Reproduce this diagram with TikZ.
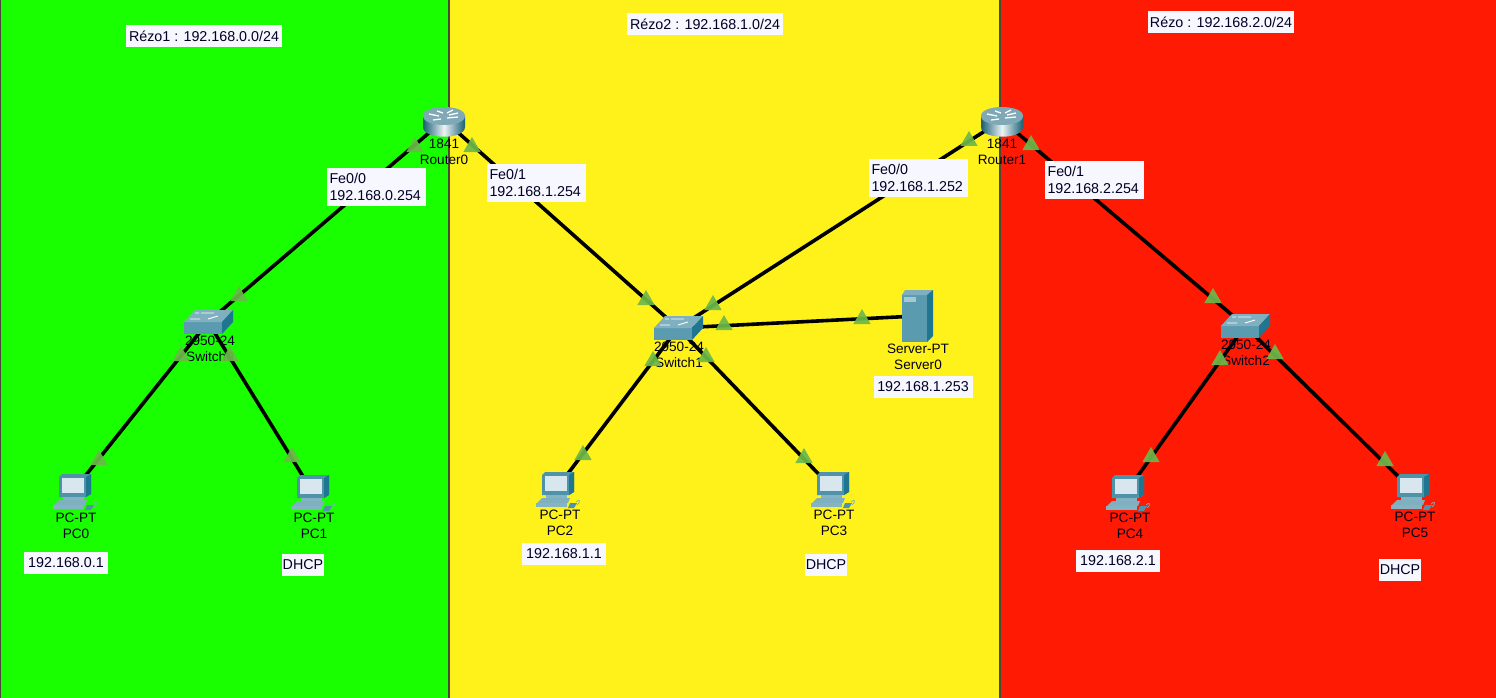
\documentclass[tikz,border=0pt]{standalone}
\usepackage{fontspec}
\setmainfont{Liberation Sans}
\usetikzlibrary{shapes.geometric}
\definecolor{zgreen}{HTML}{19FF00}
\definecolor{zyellow}{HTML}{FFF21A}
\definecolor{zred}{HTML}{FF1A03}
\definecolor{zdiv}{HTML}{4A4A3A}
\definecolor{lamp}{HTML}{6CB84A}
\definecolor{sw}{HTML}{5B9BB0}
\definecolor{swd}{HTML}{1F7690}
\definecolor{swt}{HTML}{7FB0C0}
\definecolor{pcb}{HTML}{4F93AB}
\definecolor{pcs}{HTML}{D8E6EE}
\tikzset{
  x=1pt,y=-1pt,
  link/.style={draw=black,line width=3.6pt},
  anchorpt/.style={inner sep=0pt,minimum size=0pt,outer sep=0pt},
  lampt/.style={regular polygon,regular polygon sides=3,fill=lamp,fill opacity=.92,inner sep=0pt,minimum size=20pt,draw=none},
  lab/.style={fill=white!97!blue,inner sep=0pt,align=left,font=\fontsize{14.3}{17.5}\selectfont,text=black!85!blue},
  dev/.style={align=center,inner sep=0pt,font=\fontsize{13.6}{16}\selectfont,text=black!90!blue},
}
\newcommand{\routericon}[2]{\begin{scope}[shift={(#1,#2)}]
  \shade[left color=swd!80!black,right color=swd!80!black,middle color=white!85!swt] (-21,-4) -- (-21,7) .. controls (-21,20) and (21,20) .. (21,7) -- (21,-4) -- cycle;
  \fill[swt!85!gray] (-21,-4) .. controls (-21,-16) and (21,-16) .. (21,-4) .. controls (21,8) and (-21,8) .. (-21,-4) -- cycle;
  \draw[white,line width=1.3pt] (-15,-6) -- (-5,-4) (3,-2) -- (14,-3) (-11,0) -- (-3,-1) (3,-7) -- (9,-10) (-7,-9)--(-1,-7) (5,-5)--(14,-7);
\end{scope}}
\newcommand{\switchicon}[2]{\begin{scope}[shift={(#1,#2)}]
  \fill[sw] (-24,0) rectangle (14,12);
  \fill[swt] (-24,0) -- (-13,-12) -- (25,-12) -- (14,0) -- cycle;
  \fill[swd] (14,0) -- (25,-12) -- (25,0) -- (14,12) -- cycle;
  \draw[white,line width=.9pt] (-18,-3) -- (-8,-3) (-7,-9)--(6,-9) (0,-3)--(10,-6) (-13,-9)--(-9,-9);
\end{scope}}
\newcommand{\pcicon}[2]{\begin{scope}[shift={(#1,#2)}]
  \fill[pcb] (-15,-13) -- (-12,-16) -- (17,-16) -- (17,4) -- (12,7) -- (-15,7) -- cycle;
  \fill[swd] (12,-13) -- (17,-16) -- (17,4) -- (12,7) -- cycle;
  \fill[pcs] (-12,-12) rectangle (10,3);
  \fill[pcb!70!white] (-11,7) rectangle (10,10);
  \fill[swt] (-15,10) -- (13,10) -- (11,15) -- (-20,15) -- cycle;
  \fill[pcb] (13,15) -- (20,15) -- (17,20) -- (11,20) -- cycle;
  \fill[pcb!70!white] (-21,15) rectangle (10,19);
  \draw[swt,line width=.7pt] (19,14) .. controls (23,10) and (24,14) .. (20,17);
\end{scope}}
\newcommand{\servericon}[2]{\begin{scope}[shift={(#1,#2)}]
  \fill[sw] (-15,-21) rectangle (10,26);
  \fill[swt] (-15,-21) -- (-12,-26) -- (16,-26) -- (10,-21) -- cycle;
  \fill[swd] (10,-21) -- (16,-26) -- (16,20) -- (10,26) -- cycle;
  \fill[swt!70!white] (-13,-19) rectangle (-1,-14);
\end{scope}}
\begin{document}
\begin{tikzpicture}
\useasboundingbox (0,0) rectangle (1496,698);
\fill[zgreen] (0,0) rectangle (449,698);
\fill[zyellow] (449,0) rectangle (1000,698);
\fill[zred] (1000,0) rectangle (1496,698);
\draw[zdiv,line width=1.6pt] (0.5,0) -- (0.5,698) (449,0) -- (449,698) (1000,0) -- (1000,698);
% anchors
\node[anchorpt] (R0) at (444,120) {};
\node[anchorpt] (R1) at (1002,120) {};
\node[anchorpt] (S0) at (208,322) {};
\node[anchorpt] (S1) at (678,328) {};
\node[anchorpt] (S2) at (1245,326) {};
\node[anchorpt] (SV) at (917,316) {};
\node[anchorpt] (P0) at (74,490) {};
\node[anchorpt] (P1) at (312,491) {};
\node[anchorpt] (P2) at (557,488) {};
\node[anchorpt] (P3) at (832,488) {};
\node[anchorpt] (P4) at (1127,491) {};
\node[anchorpt] (P5) at (1412,490) {};
% links
\draw[link] (R0) -- (S0);
\draw[link] (R0) -- (S1);
\draw[link] (R1) -- (S1);
\draw[link] (R1) -- (S2);
\draw[link] (S1) -- (SV);
\draw[link] (S0) -- (P0);
\draw[link] (S0) -- (P1);
\draw[link] (S1) -- (P2);
\draw[link] (S1) -- (P3);
\draw[link] (S2) -- (P4);
\draw[link] (S2) -- (P5);
% icons
\routericon{444}{120}
\routericon{1002}{120}
\switchicon{208}{322}
\switchicon{678}{328}
\switchicon{1245}{326}
\servericon{917}{316}
\pcicon{74}{490}
\pcicon{312}{491}
\pcicon{557}{488}
\pcicon{832}{488}
\pcicon{1127}{491}
\pcicon{1412}{490}
% device labels
\node[dev] (tR0) at (444,152) {1841\\Router0};
\node[dev] (tR1) at (1002,152) {1841\\Router1};
\node[dev] (tS0) at (210,349) {2950-24\\Switch0};
\node[dev] (tS1) at (679,355) {2950-24\\Switch1};
\node[dev] (tS2) at (1246,353) {2950-24\\Switch2};
\node[dev] (tSV) at (918,357) {Server-PT\\Server0};
\node[dev] (tP0) at (76,526) {PC-PT\\PC0};
\node[dev] (tP1) at (314,526) {PC-PT\\PC1};
\node[dev] (tP2) at (560,523) {PC-PT\\PC2};
\node[dev] (tP3) at (834,523) {PC-PT\\PC3};
\node[dev] (tP4) at (1130,526) {PC-PT\\PC4};
\node[dev] (tP5) at (1415,525) {PC-PT\\PC5};
% link lights
\foreach \n/\a/\b in {a/415/147,b/472/147,c/239/296,d/181/356,e/230/356,f/99/460,g/292/457,
  h/646/300,i/713/305,j/724/325,k/862/319,l/653/361,m/706/357,n/969/141,o/1031/145,p/583/455,q/804/458,
  r/1213/298,s/1220/360,t/1275/354,u/1151/457,v/1385/461}
  \node[lampt] (L\n) at (\a,\b) {};
% text labels
\node[lab,minimum width=156pt,minimum height=22pt,align=center] (z1) at (204,36) {Rézo1 : 192.168.0.0/24};
\node[lab,minimum width=156pt,minimum height=22pt,align=center] (z2) at (705,24) {Rézo2 : 192.168.1.0/24};
\node[lab,minimum width=146pt,minimum height=22pt,align=center] (z3) at (1221,22) {Rézo : 192.168.2.0/24};
\node[lab,minimum width=99pt,minimum height=38pt,text width=93pt] (f1) at (376,187) {Fe0/0\\192.168.0.254};
\node[lab,minimum width=99pt,minimum height=38pt,text width=93pt] (f2) at (536,183) {Fe0/1\\192.168.1.254};
\node[lab,minimum width=99pt,minimum height=38pt,text width=93pt] (f3) at (918,178) {Fe0/0\\192.168.1.252};
\node[lab,minimum width=99pt,minimum height=38pt,text width=93pt] (f4) at (1094,180) {Fe0/1\\192.168.2.254};
\node[lab,minimum width=84pt,minimum height=22pt,align=center] (i0) at (66,563) {192.168.0.1};
\node[lab,minimum width=84pt,minimum height=22pt,align=center] (i2) at (564,554) {192.168.1.1};
\node[lab,minimum width=84pt,minimum height=22pt,align=center] (i4) at (1118,561) {192.168.2.1};
\node[lab,minimum width=99pt,minimum height=22pt,align=center] (i5) at (923,387) {192.168.1.253};
\node[lab,minimum width=42pt,minimum height=22pt,align=center] (d1) at (303,565) {DHCP};
\node[lab,minimum width=42pt,minimum height=22pt,align=center] (d3) at (826,565) {DHCP};
\node[lab,minimum width=42pt,minimum height=22pt,align=center] (d5) at (1400,570) {DHCP};
\end{tikzpicture}
\end{document}
